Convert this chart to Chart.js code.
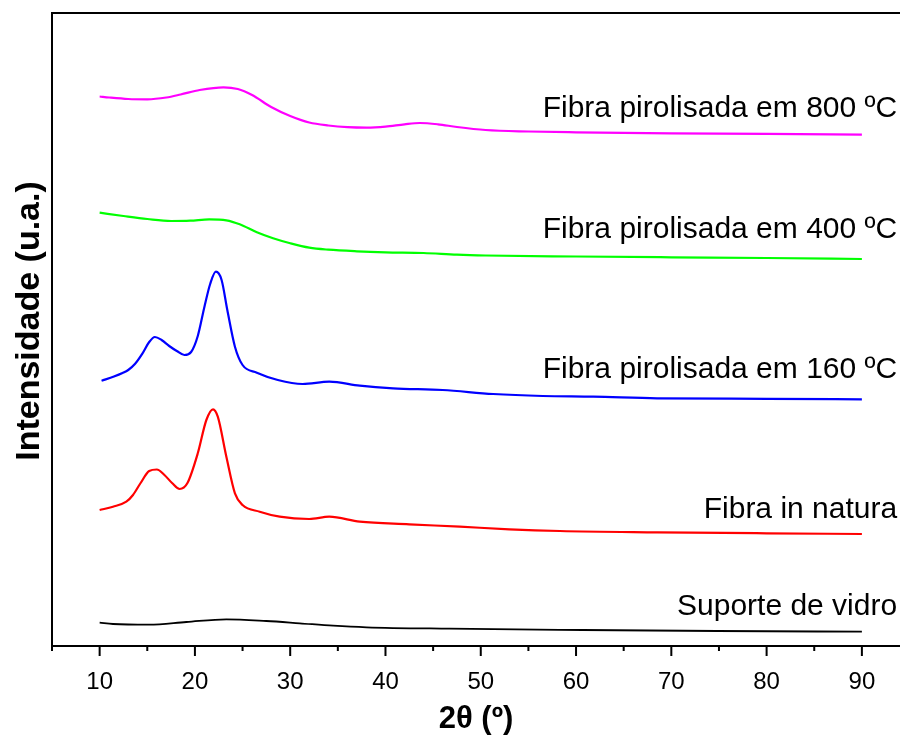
<!DOCTYPE html>
<html>
<head>
<meta charset="utf-8">
<script src="https://cdn.jsdelivr.net/npm/chart.js@4.4.0/dist/chart.umd.min.js"></script>
<style>
  body { margin: 0; background: #fff; }
  #wrap { width: 900px; height: 735px; }
</style>
</head>
<body>
<div id="wrap"><canvas id="myChart" width="900" height="735"></canvas></div>
<script>
// 2-theta positions and intensities (a.u., offsets included)
const x800 = [10, 11, 13, 15, 17, 18.5, 20.5, 23, 24.5, 26, 28, 30, 32, 34, 36, 38, 40, 42, 43.6, 45.5, 47.5, 50.5, 55, 60, 70, 80, 90];
const y800 = [549.5, 548.5, 547, 546.7, 548.5, 551.5, 556, 558.7, 557, 551, 539, 530, 523.5, 520.5, 518.8, 518.3, 519.3, 521.7, 523, 521.7, 519, 516, 514.5, 513.7, 512.7, 512.2, 511.3];

const x400 = [10, 12.5, 15, 17.5, 19.5, 21.5, 23.3, 24.7, 26.5, 28.2, 30, 32, 34, 37, 40, 44, 47.5, 50.5, 60, 70, 80, 90];
const y400 = [433.3, 430, 427, 425, 425.3, 426.7, 425.7, 421.7, 413.7, 407.7, 402.7, 398.3, 396.3, 394.7, 393.7, 393, 391.3, 390.5, 389.5, 388.7, 388, 387];

const x160 = [10.2, 11.5, 12.4, 13, 13.7, 14.5, 15.2, 15.8, 16.5, 17.3, 18.1, 18.9, 19.6, 20.3, 21, 21.6, 22.2, 22.8, 23.4, 24.2, 25, 26.5, 28.7, 31.3, 34.1, 37.3, 40.8, 46, 51.3, 56.5, 61.8, 68.5, 80, 90];
const y160 = [265.3, 269.5, 273, 276, 282, 292.7, 304, 309, 306, 300, 295, 291, 294, 310, 339.3, 362, 374.3, 366, 336, 299.3, 281, 273.3, 266, 262, 264.3, 260.3, 257.7, 256, 252, 250, 249.3, 247.7, 247.2, 246.7];

const xNatura = [10, 11.4, 12.8, 13.5, 14.3, 15.2, 16, 16.8, 17.6, 18.4, 19.2, 20.3, 21.2, 21.9, 22.4, 23.3, 24.2, 25, 26.8, 28.9, 32, 34.1, 37.3, 42.5, 47.8, 53, 58.3, 68.5, 80, 90];
const yNatura = [136, 139.3, 144.3, 151, 163, 175, 176.5, 171, 163, 157, 162.7, 192.7, 226, 236.7, 229.3, 189.3, 152.7, 141, 134.3, 129.3, 127, 129.3, 124.3, 121.7, 119.3, 116.7, 115, 113.7, 112.7, 112];

const xVidro = [10, 11.4, 15.2, 19.1, 23.3, 27.5, 31, 34.5, 38, 46.7, 60.7, 74.8, 90];
const yVidro = [23.3, 22, 21.3, 24, 26.7, 25, 22.7, 20.3, 18.7, 17.3, 16, 15, 14.3];

const seriesNames = ["Fibra pirolisada em 800 ºC", "Fibra pirolisada em 400 ºC", "Fibra pirolisada em 160 ºC", "Fibra in natura", "Suporte de vidro"];
const seriesColors = ["#ff00ff", "#00ff00", "#0000ff", "#ff0000", "#000000"];
const labelY = [529, 408, 268, 128, 31];
const labelX = 93.7;

const majorTicks = [10, 20, 30, 40, 50, 60, 70, 80, 90];
const minorTicks = [15, 25, 35, 45, 55, 65, 75, 85];

const yTitle = 'Intensidade (u.a.)';
const xTitle = '2θ (º)';

const xs = [x800, x400, x160, xNatura, xVidro];
const ys = [y800, y400, y160, yNatura, yVidro];

const datasets = seriesNames.map((name, i) => ({
  label: name,
  data: xs[i].map((v, j) => ({ x: v, y: ys[i][j] })),
  borderColor: seriesColors[i],
  borderWidth: i === 4 ? 1.8 : 2.2,
  pointRadius: 0,
  fill: false,
  cubicInterpolationMode: 'monotone'
}));

// axes frame, tick marks, y title and curve labels
const frame = {
  id: 'frame',
  afterDraw(chart) {
    const { ctx, chartArea: a } = chart;
    const x = chart.scales.x;
    const y = chart.scales.y;
    ctx.save();
    ctx.strokeStyle = '#000';
    ctx.lineWidth = 2;
    ctx.beginPath();
    ctx.moveTo(a.right, a.top);
    ctx.lineTo(a.left, a.top);
    ctx.lineTo(a.left, a.bottom);
    ctx.lineTo(a.right, a.bottom);
    majorTicks.forEach((v) => {
      const px = x.getPixelForValue(v);
      ctx.moveTo(px, a.bottom);
      ctx.lineTo(px, a.bottom + 10);
    });
    minorTicks.forEach((v) => {
      const px = x.getPixelForValue(v);
      ctx.moveTo(px, a.bottom);
      ctx.lineTo(px, a.bottom + 5);
    });
    ctx.moveTo(a.left, a.bottom);
    ctx.lineTo(a.left, a.bottom + 5);
    ctx.stroke();

    ctx.fillStyle = '#000';
    ctx.font = '30px "Liberation Sans", Arial, sans-serif';
    ctx.textAlign = 'right';
    ctx.textBaseline = 'alphabetic';
    seriesNames.forEach((n, i) => {
      ctx.fillText(n, x.getPixelForValue(labelX), y.getPixelForValue(labelY[i]));
    });

    // y title
    ctx.translate(30, 321);
    ctx.rotate(-Math.PI / 2);
    ctx.textAlign = 'center';
    ctx.textBaseline = 'middle';
    ctx.font = 'bold 34px "Liberation Sans", Arial, sans-serif';
    ctx.fillText(yTitle, 0, 0);
    ctx.restore();
  }
};

const ctx = document.getElementById('myChart').getContext('2d');
const chart = new Chart(ctx, {
  type: 'line',
  data: { datasets: datasets },
  options: {
    responsive: false,
    animation: false,
    layout: { padding: { top: 13, right: 0, left: 0, bottom: 0 } },
    plugins: { legend: { display: false }, tooltip: { enabled: false } },
    scales: {
      x: {
        type: 'linear',
        min: 5,
        max: 94,
        afterBuildTicks: (scale) => { scale.ticks = majorTicks.map((v) => ({ value: v })); },
        afterFit: (scale) => { scale.height = 89; },
        grid: { display: false, drawTicks: false },
        border: { display: false },
        ticks: {
          autoSkip: false,
          maxRotation: 0,
          padding: 22,
          color: '#000',
          font: { family: '"Liberation Sans", Arial, sans-serif', size: 24 }
        },
        title: {
          display: true,
          text: xTitle,
          color: '#000',
          padding: { top: 0, bottom: 0 },
          font: { family: '"Liberation Sans", Arial, sans-serif', size: 31, weight: 'bold', lineHeight: 1 }
        }
      },
      y: {
        min: 0,
        max: 633,
        afterFit: (scale) => { scale.width = 52; },
        grid: { display: false, drawTicks: false },
        border: { display: false },
        ticks: { display: false }
      }
    }
  },
  plugins: [frame]
});
</script>
</body>
</html>
